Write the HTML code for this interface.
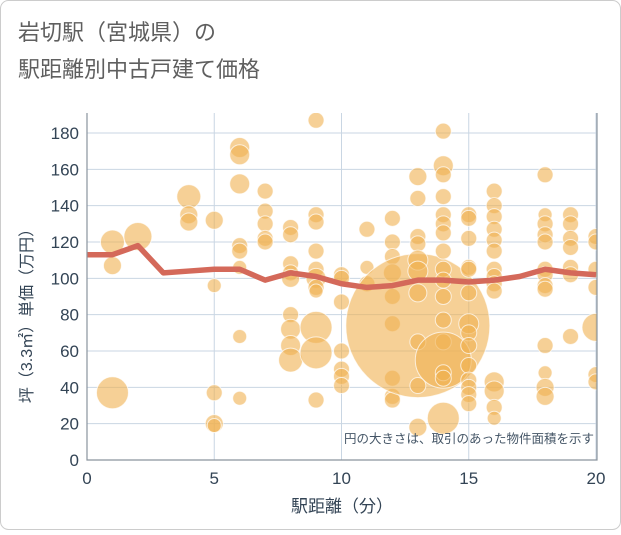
<!DOCTYPE html>
<html><head><meta charset="utf-8"><style>
body{margin:0;background:#fff;font-family:"Liberation Sans","Noto Sans CJK JP",sans-serif;}
#wrap{position:relative;width:621px;height:530px;}
</style></head><body>
<div id="wrap">
<svg id="chart" width="621" height="530" xmlns="http://www.w3.org/2000/svg">
<rect x="0.5" y="0.5" width="620" height="529" rx="8" fill="#fff" stroke="#ccc"/>
<text x="18" y="40" font-size="22" fill="#5f5f5f" font-family="Liberation Sans, Noto Sans CJK JP, sans-serif">岩切駅（宮城県）の</text>
<text x="18" y="77" font-size="22" fill="#5f5f5f" font-family="Liberation Sans, Noto Sans CJK JP, sans-serif">駅距離別中古戸建て価格</text>
<defs><clipPath id="pc"><rect x="87" y="113" width="510" height="347"/></clipPath></defs>
<g id="grid"></g>
<g id="bubbles" clip-path="url(#pc)"></g>
<g id="line"></g>
<g id="axes"></g>
<text x="594" y="443" font-size="12.5" fill="#456" text-anchor="end" font-family="Liberation Sans, Noto Sans CJK JP, sans-serif">円の大きさは、取引のあった物件面積を示す</text>
<text x="342" y="512" font-size="17" fill="#345" text-anchor="middle" font-family="Liberation Sans, Noto Sans CJK JP, sans-serif">駅距離（分）</text>
<text transform="translate(32,312) rotate(-90)" font-size="16" fill="#345" text-anchor="middle" font-family="Liberation Sans, Noto Sans CJK JP, sans-serif">坪（3.3㎡）単価（万円）</text>
</svg>
</div>
<script>
const xTicks=[0,5,10,15,20];
const yTicks=[0,20,40,60,80,100,120,140,160,180];
const lineX=[0,1,2,3,4,5,6,7,8,9,10,11,12,13,14,15,16,17,18,19,20];
const lineY=[113,113,118,103,104,105,105,99,103,101,97,95,96,99,99,98,99,101,105,103,102];
const bubX=[1,1,1,2,4,4,4,5,5,5,5,5,6,6,6,6,6,6,6,6,7,7,7,7,7,8,8,8,8,8,8,8,8,8,9,9,9,9,9,9,9,9,9,9,9,10,10,10,10,10,10,10,11,11,11,12,12,12,12,12,12,12,12,12,13,13,13,13,13,13,13,13,13,13,13,14,14,14,14,14,14,14,14,14,14,14,14,14,14,14,14,14,15,15,15,15,15,15,15,15,15,15,15,15,15,15,16,16,16,16,16,16,16,16,16,16,16,16,16,16,18,18,18,18,18,18,18,18,18,18,18,18,18,19,19,19,19,19,19,19,20,20,20,20,20,20,20];
const bubY=[120,107,37,123,145,135,131,132,96,37,20,19,172,168,152,118,115,106,68,34,148,137,130,122,120,128,124,108,103,100,80,72,63,55,187,135,131,115,105,100,95,93,73,59,33,102,100,87,60,50,46,41,127,106,97,133,120,112,103,90,75,45,35,33,74,156,144,123,119,110,104,92,65,41,18,181,162,157,145,135,130,125,115,105,99,90,77,65,55,48,45,23,135,133,122,106,105,92,75,70,63,52,44,40,36,31,148,140,134,127,121,115,105,101,97,93,43,38,29,23,157,135,130,124,120,105,102,96,94,63,48,40,35,135,130,122,117,106,102,68,123,120,105,95,73,47,43];
const bubArea=[144,81,256,196,144,81,81,81,49,64,81,49,100,100,100,64,64,49,49,49,64,64,64,64,64,64,64,64,64,81,64,100,100,144,64,64,64,64,64,100,64,49,256,256,64,64,64,64,64,64,64,64,64,49,64,64,64,64,81,64,64,64,64,64,5184,81,64,64,64,100,100,81,64,64,81,64,100,64,64,64,64,64,64,64,64,64,64,64,784,64,64,256,64,64,64,64,64,64,100,64,64,64,64,64,64,64,64,64,64,64,64,64,64,64,64,64,100,100,64,49,64,49,64,64,64,64,64,64,64,64,49,81,81,64,64,64,64,64,64,64,64,64,64,64,196,64,64];
const NS='http://www.w3.org/2000/svg';
const X0=87,X1=596,Y0=460,Y1=133;
function sx(v){return X0+(X1-X0)*v/20;}
function sy(v){return Y0-(Y0-Y1)*v/180;}
function mk(t,a){const e=document.createElementNS(NS,t);for(const k in a)e.setAttribute(k,a[k]);return e;}
const grid=document.getElementById('grid'),axes=document.getElementById('axes');
yTicks.forEach(t=>{
 const l=mk('line',{x1:X0,x2:X1,y1:sy(t),y2:sy(t),stroke:'#c9d6e3','stroke-width':1});
 
 
 grid.appendChild(l);
 const tx=mk('text',{x:X0-8,y:sy(t)+6,'font-size':17,fill:'#345','text-anchor':'end'});
 tx.textContent=t;
 
 
 axes.appendChild(tx);
});
xTicks.forEach(t=>{
 const l=mk('line',{x1:sx(t),x2:sx(t),y1:113,y2:Y0,stroke:'#c9d6e3','stroke-width':1});
 
 
 grid.appendChild(l);
 const tx=mk('text',{x:sx(t),y:Y0+24,'font-size':17,fill:'#345','text-anchor':'middle'});
 tx.textContent=t;
 
 
 axes.appendChild(tx);
});
const ax=mk('path',{d:`M${X0},113V${Y0}H${X1+1}V113`,fill:'none',stroke:'#8a949e','stroke-width':1.2});


axes.appendChild(ax);
const bg=document.getElementById('bubbles');
bubX.forEach((x,i)=>{
 const c=mk('circle',{cx:sx(x),cy:sy(bubY[i]),r:Math.sqrt(bubArea[i]),fill:'rgba(240,176,80,0.6)',stroke:'rgba(255,255,255,0.7)','stroke-width':1});
 
 
 bg.appendChild(c);
});
const pts=lineX.map((x,i)=>sx(x)+','+sy(lineY[i])).join(' ');
const pl=mk('polyline',{points:pts,fill:'none',stroke:'#d4695a','stroke-width':5.5,'stroke-linejoin':'round'});


document.getElementById('line').appendChild(pl);
</script>
</body></html>
